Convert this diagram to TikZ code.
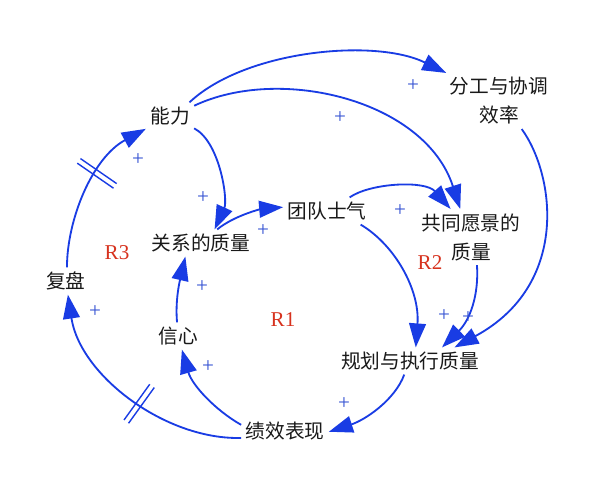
\documentclass[tikz,border=0pt]{standalone}
\usepackage{fontspec}
\newfontfamily\cjk{Noto Sans CJK SC}
\newfontfamily\libserif{Liberation Serif}
\usetikzlibrary{arrows.meta,decorations.markings}
\definecolor{lineblue}{RGB}{25,60,228}
\definecolor{plusblue}{RGB}{50,80,210}
\definecolor{lblred}{RGB}{215,50,30}
\begin{document}
\begin{tikzpicture}[x=0.25mm,y=-0.25mm,
  var/.style={font=\cjk\fontsize{14}{20.6}\selectfont, inner sep=3pt, align=center, text=black!90},
  plus/.style={font=\libserif\fontsize{15}{15}\selectfont, text=plusblue, inner sep=0pt},
  loopname/.style={font=\libserif\fontsize{15}{15}\selectfont, text=lblred, inner sep=0pt},
  link/.style={draw=lineblue, line width=1.3pt, -{Triangle[length=6mm,width=4.2mm]}, fill=none},
  delaymark/.style={postaction={decorate}, decoration={markings, mark=at position #1 with {
      \draw[lineblue, line width=1pt, -] (-2.8,-22) -- (-2.8,22) (2.8,-22) -- (2.8,22);}}}
]
\useasboundingbox (0,0) rectangle (600,480);
\fill[white] (0,0) rectangle (600,480);

% variables
\node[var] (nl) at (170,116) {能力};
\node[var] (fg) at (499,101) {分工与协调\\效率};
\node[var] (td) at (327,211) {团队士气};
\node[var] (gx) at (201,243) {关系的质量};
\node[var] (gt) at (471,237) {共同愿景的\\质量};
\node[var] (fp) at (66,281) {复盘};
\node[var] (xx) at (178,336) {信心};
\node[var] (jx) at (285,431) {绩效表现};
\node[var] (gh) at (410,361) {规划与执行质量};

% loop labels
\node[loopname] (r3) at (117,253) {R3};
\node[loopname] (r1) at (283,320) {R1};
\node[loopname] (r2) at (430,263) {R2};

% links
\draw[link] (nl.35) .. controls (245,50) and (375,38) .. (fg.152);
\draw[link] (nl.23) .. controls (280,65) and (425,100) .. (gt.111);
\draw[link] (nl.-27) .. controls (220,142) and (228,200) .. (gx.45);
\draw[link] (gx.40) .. controls (235,215) and (262,209) .. (td.175);
\draw[link] (td.31) .. controls (370,183) and (425,180) .. (gt.126);
\draw[link] (td.-22) .. controls (395,245) and (420,290) .. (gh.67);
\draw[link] (gt.-78) .. controls (479,295) and (470,320) .. (gh.23);
\draw[link] (fg.-51) .. controls (555,175) and (570,285) .. (gh.17);
\draw[link] (gh.247) .. controls (395,400) and (365,420) .. (jx.-1);
\draw[link] (jx.172) .. controls (215,410) and (192,385) .. (xx.-74);
\draw[link] (xx.94) .. controls (175,300) and (180,280) .. (gx.221);
\draw[link, delaymark=0.45] (jx.189) .. controls (165,440) and (80,375) .. (fp.-82);
\draw[link, delaymark=0.6] (fp.86) .. controls (67,220) and (92,158) .. (nl.208);

% polarities
\node[plus] (p1) at (138,160) {+};
\node[plus] (p2) at (203,198) {+};
\node[plus] (p3) at (263,231) {+};
\node[plus] (p4) at (413,86) {+};
\node[plus] (p5) at (340,118) {+};
\node[plus] (p6) at (400,211) {+};
\node[plus] (p7) at (202,287) {+};
\node[plus] (p8) at (95,312) {+};
\node[plus] (p9) at (208,367) {+};
\node[plus] (p10) at (344,404) {+};
\node[plus] (p11) at (444,316) {+};
\node[plus] (p12) at (468,318) {+};
\end{tikzpicture}
\end{document}
